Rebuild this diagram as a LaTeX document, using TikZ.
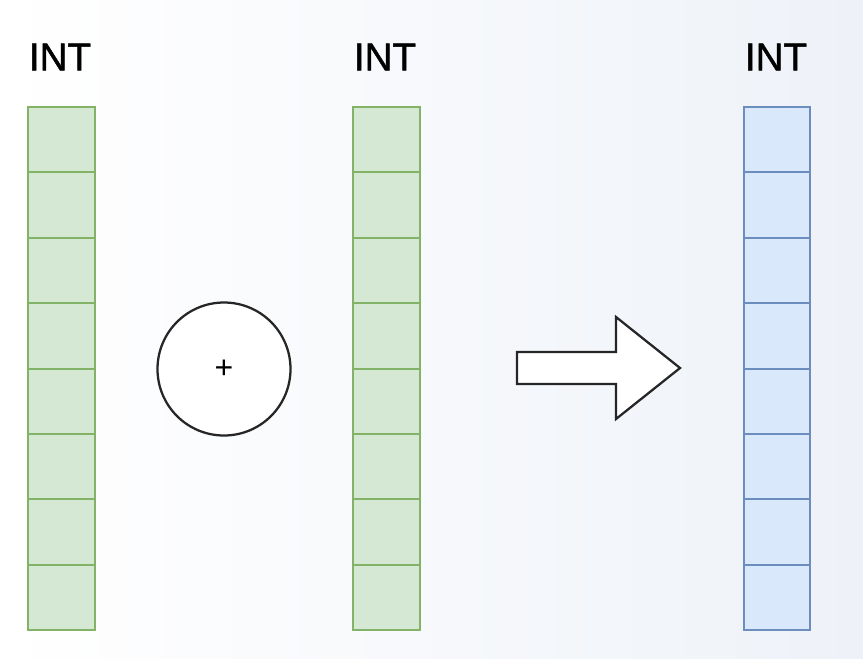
\documentclass[tikz,border=0pt]{standalone}
\usepackage{fontspec}
\setmainfont{Liberation Sans}
\newfontfamily\labfont{Liberation Sans}[FakeBold=1.2]
\definecolor{gfill}{HTML}{D5E8D4}
\definecolor{gline}{HTML}{82B366}
\definecolor{bfill}{HTML}{DAE8FC}
\definecolor{bline}{HTML}{6C8EBF}
\definecolor{bgright}{HTML}{EEF2F8}
\begin{document}
\begin{tikzpicture}[x=0.75pt,y=-0.75pt,
  gcell/.style={draw=gline,fill=gfill,line width=1.6pt},
  bcell/.style={draw=bline,fill=bfill,line width=1.6pt},
  lab/.style={font=\labfont\fontsize{29}{32}\selectfont,anchor=center,inner sep=0pt},
  blk/.style={draw=black!85,line width=1.7pt}]
\useasboundingbox (0,0) rectangle (863,658);
\shade[left color=white,right color=bgright] (0,0) rectangle (863,658);
\foreach \i in {0,...,7}{
  \draw[gcell] (28,{107+65.4*\i}) rectangle (95,{107+65.4*(\i+1)});
  \draw[gcell] (353,{107+65.4*\i}) rectangle (420,{107+65.4*(\i+1)});
  \draw[bcell] (744,{107+65.4*\i}) rectangle (810,{107+65.4*(\i+1)});
}
\node[lab] (l1) at (60,57) {INT};
\node[lab] (l2) at (385,57) {INT};
\node[lab] (l3) at (776,57) {INT};
\node[blk,circle,minimum size=133*0.75pt,inner sep=0pt,fill=white,font=\fontsize{24}{26}\selectfont] (op) at (224,369) {+};
\draw[blk,fill=white,line join=miter] (517,352) -- (616,352) -- (616,317) -- (680,368) -- (616,419) -- (616,384) -- (517,384) -- cycle;
\end{tikzpicture}
\end{document}
